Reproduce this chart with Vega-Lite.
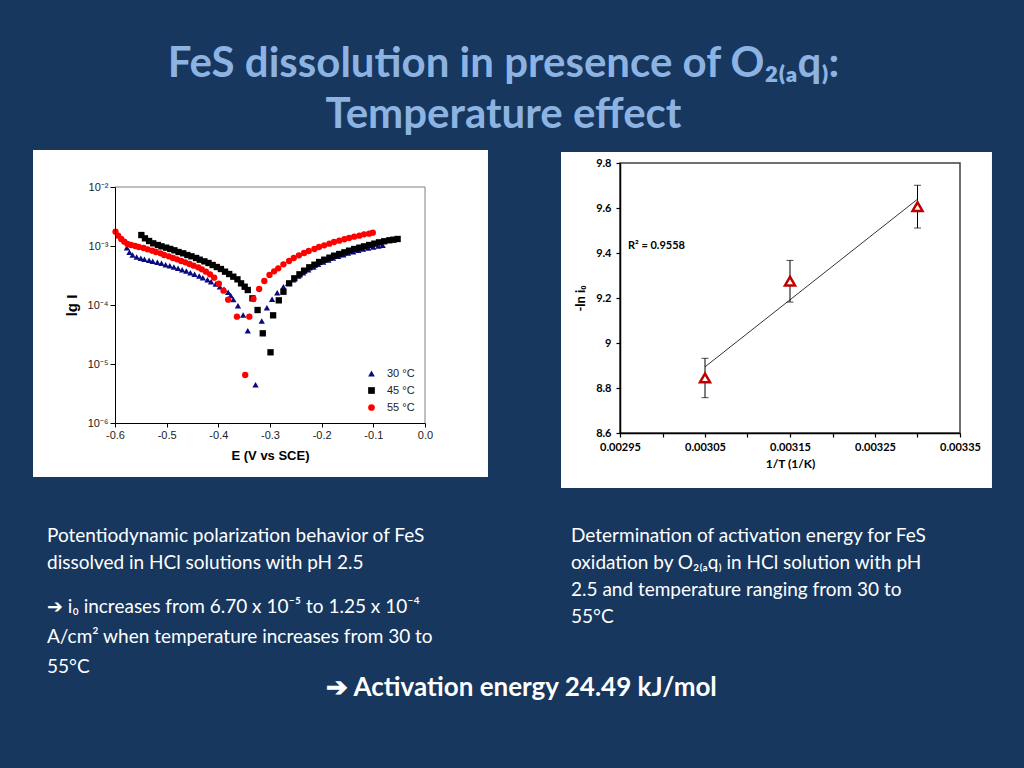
{
  "$schema": "https://vega.github.io/schema/vega-lite/v6.json",
  "background": "#17375E",
  "padding": {"left": 33, "top": 43, "right": 32, "bottom": 80},
  "config": {"view": {"stroke": null}},
  "title": {
    "text": ["FeS dissolution in presence of O₂₍ₐq₎:", "Temperature effect"],
    "anchor": "middle", "frame": "bounds", "font": "Lato", "fontSize": 42, "fontWeight": "bold",
    "color": "#8DB3E2", "lineHeight": 51, "offset": 13, "dx": -9
  },
  "vconcat": [
    {
      "title": {
        "text": "➔ Activation energy 24.49 kJ/mol", "orient": "bottom", "anchor": "middle", "frame": "bounds",
        "font": "Lato", "fontSize": 26, "fontWeight": "bold", "color": "#FFFFFF", "offset": -2, "dx": 9
      },
      "spacing": 73,
      "resolve": {
        "scale": {"color": "independent", "shape": "independent"},
        "legend": {"color": "independent", "shape": "independent"}
      },
      "hconcat": [
        {
          "width": 310,
          "height": 260,
          "title": {
            "text": ["Potentiodynamic polarization behavior of FeS", "dissolved in HCl solutions with pH 2.5"],
            "subtitle": ["➔ i₀ increases from 6.70 x 10⁻⁵ to 1.25 x 10⁻⁴", "A/cm² when temperature increases from 30 to", "55°C"],
            "orient": "bottom", "anchor": "start", "frame": "bounds", "font": "Lato", "fontSize": 19,
            "fontWeight": "normal", "color": "#FFFFFF", "lineHeight": 27, "offset": 50, "dx": 14,
            "subtitleFont": "Lato", "subtitleFontSize": 19, "subtitleFontWeight": "normal", "subtitleColor": "#FFFFFF",
            "subtitleLineHeight": 30, "subtitlePadding": 25
          },
          "layer": [
            {
              "data": {"values": [{}]},
              "mark": {"type": "rect", "fill": "#FFFFFF"},
              "encoding": {
                "x": {"datum": -0.7587, "type": "quantitative", "scale": {"domain": [-0.6, 0], "nice": false, "zero": false}},
                "x2": {"datum": 0.1219},
                "y": {"datum": -1.373, "type": "quantitative", "scale": {"domain": [-6, -2], "nice": false, "zero": false, "range": [260, 24]}},
                "y2": {"datum": -6.915}
              }
            },
            {
              "data": {"values": [{}]},
              "mark": {"type": "rule", "color": "#808080", "strokeWidth": 1},
              "encoding": {
                "x": {"datum": -0.6, "type": "quantitative"},
                "x2": {"datum": 0},
                "y": {"datum": -2, "type": "quantitative"}
              }
            },
            {
              "data": {"values": [{}]},
              "mark": {"type": "rule", "color": "#808080", "strokeWidth": 1},
              "encoding": {
                "x": {"datum": 0, "type": "quantitative"},
                "y": {"datum": -2, "type": "quantitative"},
                "y2": {"datum": -6}
              }
            },
            {
              "data": {"values": [
                {"T":"30 °C","E":-0.577,"lgI":-3.028},{"T":"30 °C","E":-0.572,"lgI":-3.107},{"T":"30 °C","E":-0.566,"lgI":-3.153},{"T":"30 °C","E":-0.558,"lgI":-3.186},{"T":"30 °C","E":-0.550,"lgI":-3.209},{"T":"30 °C","E":-0.543,"lgI":-3.226},{"T":"30 °C","E":-0.534,"lgI":-3.243},{"T":"30 °C","E":-0.527,"lgI":-3.260},{"T":"30 °C","E":-0.518,"lgI":-3.277},{"T":"30 °C","E":-0.510,"lgI":-3.294},{"T":"30 °C","E":-0.502,"lgI":-3.317},{"T":"30 °C","E":-0.494,"lgI":-3.334},{"T":"30 °C","E":-0.486,"lgI":-3.356},{"T":"30 °C","E":-0.478,"lgI":-3.379},{"T":"30 °C","E":-0.470,"lgI":-3.401},{"T":"30 °C","E":-0.462,"lgI":-3.424},{"T":"30 °C","E":-0.454,"lgI":-3.452},{"T":"30 °C","E":-0.446,"lgI":-3.480},{"T":"30 °C","E":-0.437,"lgI":-3.508},{"T":"30 °C","E":-0.430,"lgI":-3.537},{"T":"30 °C","E":-0.421,"lgI":-3.571},{"T":"30 °C","E":-0.414,"lgI":-3.605},{"T":"30 °C","E":-0.405,"lgI":-3.644},{"T":"30 °C","E":-0.397,"lgI":-3.690},{"T":"30 °C","E":-0.389,"lgI":-3.734},{"T":"30 °C","E":-0.381,"lgI":-3.785},{"T":"30 °C","E":-0.376,"lgI":-3.840},{"T":"30 °C","E":-0.371,"lgI":-3.905},{"T":"30 °C","E":-0.362,"lgI":-4.012},{"T":"30 °C","E":-0.352,"lgI":-4.169},{"T":"30 °C","E":-0.343,"lgI":-4.436},{"T":"30 °C","E":-0.328,"lgI":-5.351},{"T":"30 °C","E":-0.316,"lgI":-4.271},{"T":"30 °C","E":-0.306,"lgI":-4.046},{"T":"30 °C","E":-0.296,"lgI":-3.903},{"T":"30 °C","E":-0.286,"lgI":-3.791},{"T":"30 °C","E":-0.274,"lgI":-3.690},{"T":"30 °C","E":-0.265,"lgI":-3.633},{"T":"30 °C","E":-0.255,"lgI":-3.571},{"T":"30 °C","E":-0.245,"lgI":-3.508},{"T":"30 °C","E":-0.236,"lgI":-3.452},{"T":"30 °C","E":-0.226,"lgI":-3.401},{"T":"30 °C","E":-0.216,"lgI":-3.356},{"T":"30 °C","E":-0.207,"lgI":-3.310},{"T":"30 °C","E":-0.197,"lgI":-3.271},{"T":"30 °C","E":-0.187,"lgI":-3.237},{"T":"30 °C","E":-0.178,"lgI":-3.203},{"T":"30 °C","E":-0.168,"lgI":-3.175},{"T":"30 °C","E":-0.158,"lgI":-3.147},{"T":"30 °C","E":-0.149,"lgI":-3.119},{"T":"30 °C","E":-0.139,"lgI":-3.096},{"T":"30 °C","E":-0.129,"lgI":-3.073},{"T":"30 °C","E":-0.120,"lgI":-3.051},{"T":"30 °C","E":-0.110,"lgI":-3.034},{"T":"30 °C","E":-0.100,"lgI":-3.017},{"T":"30 °C","E":-0.090,"lgI":-3.000},{"T":"30 °C","E":-0.082,"lgI":-2.989},
                {"T":"45 °C","E":-0.549,"lgI":-2.814},{"T":"45 °C","E":-0.542,"lgI":-2.870},{"T":"45 °C","E":-0.534,"lgI":-2.915},{"T":"45 °C","E":-0.526,"lgI":-2.955},{"T":"45 °C","E":-0.517,"lgI":-2.983},{"T":"45 °C","E":-0.510,"lgI":-3.006},{"T":"45 °C","E":-0.501,"lgI":-3.028},{"T":"45 °C","E":-0.493,"lgI":-3.050},{"T":"45 °C","E":-0.485,"lgI":-3.073},{"T":"45 °C","E":-0.477,"lgI":-3.102},{"T":"45 °C","E":-0.468,"lgI":-3.124},{"T":"45 °C","E":-0.460,"lgI":-3.153},{"T":"45 °C","E":-0.452,"lgI":-3.175},{"T":"45 °C","E":-0.443,"lgI":-3.203},{"T":"45 °C","E":-0.436,"lgI":-3.232},{"T":"45 °C","E":-0.427,"lgI":-3.260},{"T":"45 °C","E":-0.419,"lgI":-3.288},{"T":"45 °C","E":-0.411,"lgI":-3.322},{"T":"45 °C","E":-0.403,"lgI":-3.356},{"T":"45 °C","E":-0.395,"lgI":-3.390},{"T":"45 °C","E":-0.387,"lgI":-3.435},{"T":"45 °C","E":-0.379,"lgI":-3.475},{"T":"45 °C","E":-0.371,"lgI":-3.520},{"T":"45 °C","E":-0.363,"lgI":-3.565},{"T":"45 °C","E":-0.356,"lgI":-3.633},{"T":"45 °C","E":-0.349,"lgI":-3.690},{"T":"45 °C","E":-0.343,"lgI":-3.746},{"T":"45 °C","E":-0.334,"lgI":-3.887},{"T":"45 °C","E":-0.324,"lgI":-4.085},{"T":"45 °C","E":-0.314,"lgI":-4.480},{"T":"45 °C","E":-0.299,"lgI":-4.802},{"T":"45 °C","E":-0.294,"lgI":-4.175},{"T":"45 °C","E":-0.283,"lgI":-3.921},{"T":"45 °C","E":-0.274,"lgI":-3.775},{"T":"45 °C","E":-0.263,"lgI":-3.633},{"T":"45 °C","E":-0.253,"lgI":-3.548},{"T":"45 °C","E":-0.243,"lgI":-3.480},{"T":"45 °C","E":-0.234,"lgI":-3.418},{"T":"45 °C","E":-0.224,"lgI":-3.361},{"T":"45 °C","E":-0.214,"lgI":-3.317},{"T":"45 °C","E":-0.205,"lgI":-3.271},{"T":"45 °C","E":-0.195,"lgI":-3.232},{"T":"45 °C","E":-0.185,"lgI":-3.198},{"T":"45 °C","E":-0.176,"lgI":-3.164},{"T":"45 °C","E":-0.166,"lgI":-3.136},{"T":"45 °C","E":-0.156,"lgI":-3.107},{"T":"45 °C","E":-0.147,"lgI":-3.079},{"T":"45 °C","E":-0.137,"lgI":-3.051},{"T":"45 °C","E":-0.127,"lgI":-3.028},{"T":"45 °C","E":-0.118,"lgI":-3.006},{"T":"45 °C","E":-0.108,"lgI":-2.983},{"T":"45 °C","E":-0.098,"lgI":-2.960},{"T":"45 °C","E":-0.089,"lgI":-2.938},{"T":"45 °C","E":-0.079,"lgI":-2.920},{"T":"45 °C","E":-0.069,"lgI":-2.903},{"T":"45 °C","E":-0.061,"lgI":-2.893},{"T":"45 °C","E":-0.053,"lgI":-2.881},
                {"T":"55 °C","E":-0.599,"lgI":-2.757},{"T":"55 °C","E":-0.594,"lgI":-2.825},{"T":"55 °C","E":-0.588,"lgI":-2.881},{"T":"55 °C","E":-0.582,"lgI":-2.927},{"T":"55 °C","E":-0.576,"lgI":-2.966},{"T":"55 °C","E":-0.569,"lgI":-2.983},{"T":"55 °C","E":-0.561,"lgI":-3.000},{"T":"55 °C","E":-0.554,"lgI":-3.017},{"T":"55 °C","E":-0.545,"lgI":-3.034},{"T":"55 °C","E":-0.537,"lgI":-3.056},{"T":"55 °C","E":-0.528,"lgI":-3.079},{"T":"55 °C","E":-0.521,"lgI":-3.102},{"T":"55 °C","E":-0.512,"lgI":-3.124},{"T":"55 °C","E":-0.505,"lgI":-3.153},{"T":"55 °C","E":-0.496,"lgI":-3.175},{"T":"55 °C","E":-0.488,"lgI":-3.203},{"T":"55 °C","E":-0.480,"lgI":-3.226},{"T":"55 °C","E":-0.472,"lgI":-3.254},{"T":"55 °C","E":-0.464,"lgI":-3.277},{"T":"55 °C","E":-0.456,"lgI":-3.305},{"T":"55 °C","E":-0.448,"lgI":-3.334},{"T":"55 °C","E":-0.439,"lgI":-3.361},{"T":"55 °C","E":-0.432,"lgI":-3.395},{"T":"55 °C","E":-0.424,"lgI":-3.435},{"T":"55 °C","E":-0.416,"lgI":-3.480},{"T":"55 °C","E":-0.408,"lgI":-3.537},{"T":"55 °C","E":-0.399,"lgI":-3.638},{"T":"55 °C","E":-0.390,"lgI":-3.757},{"T":"55 °C","E":-0.381,"lgI":-3.910},{"T":"55 °C","E":-0.364,"lgI":-4.198},{"T":"55 °C","E":-0.348,"lgI":-5.186},{"T":"55 °C","E":-0.340,"lgI":-4.198},{"T":"55 °C","E":-0.332,"lgI":-3.898},{"T":"55 °C","E":-0.321,"lgI":-3.729},{"T":"55 °C","E":-0.311,"lgI":-3.593},{"T":"55 °C","E":-0.301,"lgI":-3.490},{"T":"55 °C","E":-0.292,"lgI":-3.430},{"T":"55 °C","E":-0.284,"lgI":-3.379},{"T":"55 °C","E":-0.274,"lgI":-3.310},{"T":"55 °C","E":-0.263,"lgI":-3.254},{"T":"55 °C","E":-0.254,"lgI":-3.203},{"T":"55 °C","E":-0.244,"lgI":-3.158},{"T":"55 °C","E":-0.234,"lgI":-3.119},{"T":"55 °C","E":-0.225,"lgI":-3.085},{"T":"55 °C","E":-0.214,"lgI":-3.051},{"T":"55 °C","E":-0.205,"lgI":-3.017},{"T":"55 °C","E":-0.195,"lgI":-2.989},{"T":"55 °C","E":-0.185,"lgI":-2.960},{"T":"55 °C","E":-0.176,"lgI":-2.932},{"T":"55 °C","E":-0.166,"lgI":-2.910},{"T":"55 °C","E":-0.156,"lgI":-2.886},{"T":"55 °C","E":-0.147,"lgI":-2.864},{"T":"55 °C","E":-0.137,"lgI":-2.842},{"T":"55 °C","E":-0.127,"lgI":-2.825},{"T":"55 °C","E":-0.118,"lgI":-2.802},{"T":"55 °C","E":-0.108,"lgI":-2.791},{"T":"55 °C","E":-0.101,"lgI":-2.774}
              ]},
              "mark": {"type": "point", "filled": true, "opacity": 1, "size": 40},
              "encoding": {
                "x": {
                  "field": "E", "type": "quantitative",
                  "scale": {"domain": [-0.6, 0], "nice": false, "zero": false},
                  "axis": {
                    "title": "E (V vs SCE)", "grid": false, "zindex": 1,
                    "values": [-0.6, -0.55, -0.5, -0.45, -0.4, -0.35, -0.3, -0.25, -0.2, -0.15, -0.1, -0.05, 0],
                    "labelExpr": "abs(datum.value*10 - round(datum.value*10)) < 0.001 ? replace(format(datum.value, '.1f'), '−', '-') : ''",
                    "tickSize": 4,
                    "labelOverlap": false, "labelFlush": false,
                    "domainColor": "#000000", "tickColor": "#000000",
                    "labelFont": "Liberation Sans", "labelFontSize": 11, "labelColor": "#222222", "labelPadding": 2,
                    "titleFont": "Liberation Sans", "titleFontSize": 13, "titleFontWeight": "bold", "titleColor": "#000000", "titlePadding": 9
                  }
                },
                "y": {
                  "field": "lgI", "type": "quantitative",
                  "scale": {"domain": [-6, -2], "nice": false, "zero": false, "range": [260, 24]},
                  "axis": {
                    "title": "lg I", "grid": false, "zindex": 1,
                    "values": [-6, -5, -4, -3, -2],
                    "labelExpr": "'10' + (datum.value == -2 ? '⁻²' : datum.value == -3 ? '⁻³' : datum.value == -4 ? '⁻⁴' : datum.value == -5 ? '⁻⁵' : '⁻⁶')",
                    "tickSize": 5,
                    "labelOverlap": false, "labelFlush": false,
                    "domainColor": "#000000", "tickColor": "#000000",
                    "labelFont": "Liberation Sans", "labelFontSize": 11, "labelColor": "#222222", "labelPadding": 2,
                    "titleFont": "Liberation Sans", "titleFontSize": 15, "titleFontWeight": "bold", "titleColor": "#000000", "titlePadding": 8
                  }
                },
                "shape": {
                  "field": "T", "type": "nominal",
                  "scale": {"domain": ["30 °C", "45 °C", "55 °C"], "range": ["triangle-up", "square", "circle"]},
                  "legend": {"title": null, "orient": "bottom-right", "offset": 10, "labelFont": "Liberation Sans", "labelFontSize": 11, "labelColor": "#222222", "symbolSize": 45, "rowPadding": 5, "padding": 0, "labelOffset": 10}
                },
                "color": {
                  "field": "T", "type": "nominal",
                  "scale": {"domain": ["30 °C", "45 °C", "55 °C"], "range": ["#0A0A80", "#000000", "#FF0000"]},
                  "legend": {"title": null, "orient": "bottom-right", "offset": 10, "labelFont": "Liberation Sans", "labelFontSize": 11, "labelColor": "#222222", "symbolSize": 45, "rowPadding": 5, "padding": 0, "labelOffset": 10}
                }
              }
            }
          ]
        },
        {
          "width": 340,
          "height": 270,
          "title": {
            "text": ["Determination of activation energy for FeS", "oxidation  by O₂₍ₐq₎ in HCl solution with pH", "2.5 and temperature ranging from 30 to", "55°C"],
            "orient": "bottom", "anchor": "start", "frame": "bounds", "font": "Lato", "fontSize": 19,
            "fontWeight": "normal", "color": "#FFFFFF", "lineHeight": 27, "offset": 39, "dx": 10
          },
          "layer": [
            {
              "data": {"values": [{}]},
              "mark": {"type": "rect", "fill": "#FFFFFF"},
              "encoding": {
                "x": {"datum": 0.0028806, "type": "quantitative", "scale": {"domain": [0.00295, 0.00335], "nice": false, "zero": false}},
                "x2": {"datum": 0.0033876},
                "y": {"datum": 9.849, "type": "quantitative", "scale": {"domain": [8.6, 9.8], "nice": false, "zero": false}},
                "y2": {"datum": 8.3556}
              }
            },
            {
              "data": {"values": [{}]},
              "mark": {"type": "rect", "filled": false, "stroke": "#404040", "strokeWidth": 1.5},
              "encoding": {
                "x": {"datum": 0.00295, "type": "quantitative"},
                "x2": {"datum": 0.00335},
                "y": {"datum": 9.8, "type": "quantitative"},
                "y2": {"datum": 8.6}
              }
            },
            {
              "data": {"values": [{"invT": 0.00305, "fit": 8.894}, {"invT": 0.0033, "fit": 9.639}]},
              "mark": {"type": "line", "color": "#000000", "strokeWidth": 0.8},
              "encoding": {
                "x": {"field": "invT", "type": "quantitative"},
                "y": {"field": "fit", "type": "quantitative"}
              }
            },
            {
              "data": {"name": "pts", "values": [
                {"invT": 0.00305, "lnI": 8.845, "lo": 8.757, "hi": 8.932},
                {"invT": 0.00315, "lnI": 9.275, "lo": 9.182, "hi": 9.367},
                {"invT": 0.0033, "lnI": 9.606, "lo": 9.511, "hi": 9.701}
              ]},
              "layer": [
                {
                  "mark": {"type": "rule", "color": "#000000", "strokeWidth": 1},
                  "encoding": {
                    "x": {"field": "invT", "type": "quantitative"},
                    "y": {"field": "lo", "type": "quantitative"},
                    "y2": {"field": "hi"}
                  }
                },
                {
                  "mark": {"type": "tick", "orient": "horizontal", "color": "#000000", "thickness": 1, "size": 7},
                  "encoding": {
                    "x": {"field": "invT", "type": "quantitative"},
                    "y": {"field": "lo", "type": "quantitative"}
                  }
                },
                {
                  "mark": {"type": "tick", "orient": "horizontal", "color": "#000000", "thickness": 1, "size": 7},
                  "encoding": {
                    "x": {"field": "invT", "type": "quantitative"},
                    "y": {"field": "hi", "type": "quantitative"}
                  }
                },
                {
                  "mark": {"type": "point", "shape": "triangle-up", "filled": false, "fill": "#FFFFFF", "fillOpacity": 1, "stroke": "#C00000", "strokeWidth": 2.5, "opacity": 1, "size": 100},
                  "encoding": {
                    "x": {
                      "field": "invT", "type": "quantitative",
                      "axis": {
                        "title": "1/T (1/K)", "grid": false, "zindex": 1,
                        "values": [0.00295, 0.003, 0.00305, 0.0031, 0.00315, 0.0032, 0.00325, 0.0033, 0.00335],
                        "labelExpr": "round(datum.value*100000) % 10 == 5 ? format(datum.value, '.5f') : ''",
                        "tickSize": 4, "labelOverlap": false, "labelFlush": false,
                        "domainColor": "#000000", "domainWidth": 1.5, "tickColor": "#000000", "tickWidth": 1.2,
                        "labelFont": "Lato", "labelFontSize": 11, "labelFontWeight": "bold", "labelColor": "#000000", "labelPadding": 4,
                        "titleFont": "Lato", "titleFontSize": 12, "titleFontWeight": "bold", "titleColor": "#000000", "titlePadding": 6
                      }
                    },
                    "y": {
                      "field": "lnI", "type": "quantitative",
                      "axis": {
                        "title": "-ln i₀", "grid": false, "zindex": 1,
                        "values": [8.6, 8.7, 8.8, 8.9, 9, 9.1, 9.2, 9.3, 9.4, 9.5, 9.6, 9.7, 9.8],
                        "labelExpr": "round(datum.value*10) % 2 == 0 ? format(datum.value, '~g') : ''",
                        "tickSize": 4, "labelOverlap": false, "labelFlush": false,
                        "domainColor": "#000000", "domainWidth": 1.5, "tickColor": "#000000", "tickWidth": 1.2,
                        "labelFont": "Lato", "labelFontSize": 11, "labelFontWeight": "bold", "labelColor": "#000000", "labelPadding": 5,
                        "titleFont": "Lato", "titleFontSize": 13, "titleFontWeight": "bold", "titleColor": "#000000", "titlePadding": 8
                      }
                    }
                  }
                }
              ]
            },
            {
              "data": {"values": [{"label": "R² = 0.9558"}]},
              "mark": {"type": "text", "align": "left", "baseline": "middle", "font": "Lato", "fontSize": 11, "fontWeight": "bold", "color": "#000000"},
              "encoding": {
                "x": {"datum": 0.0029594, "type": "quantitative"},
                "y": {"datum": 9.431, "type": "quantitative"},
                "text": {"field": "label"}
              }
            }
          ]
        }
      ]
    }
  ]
}
